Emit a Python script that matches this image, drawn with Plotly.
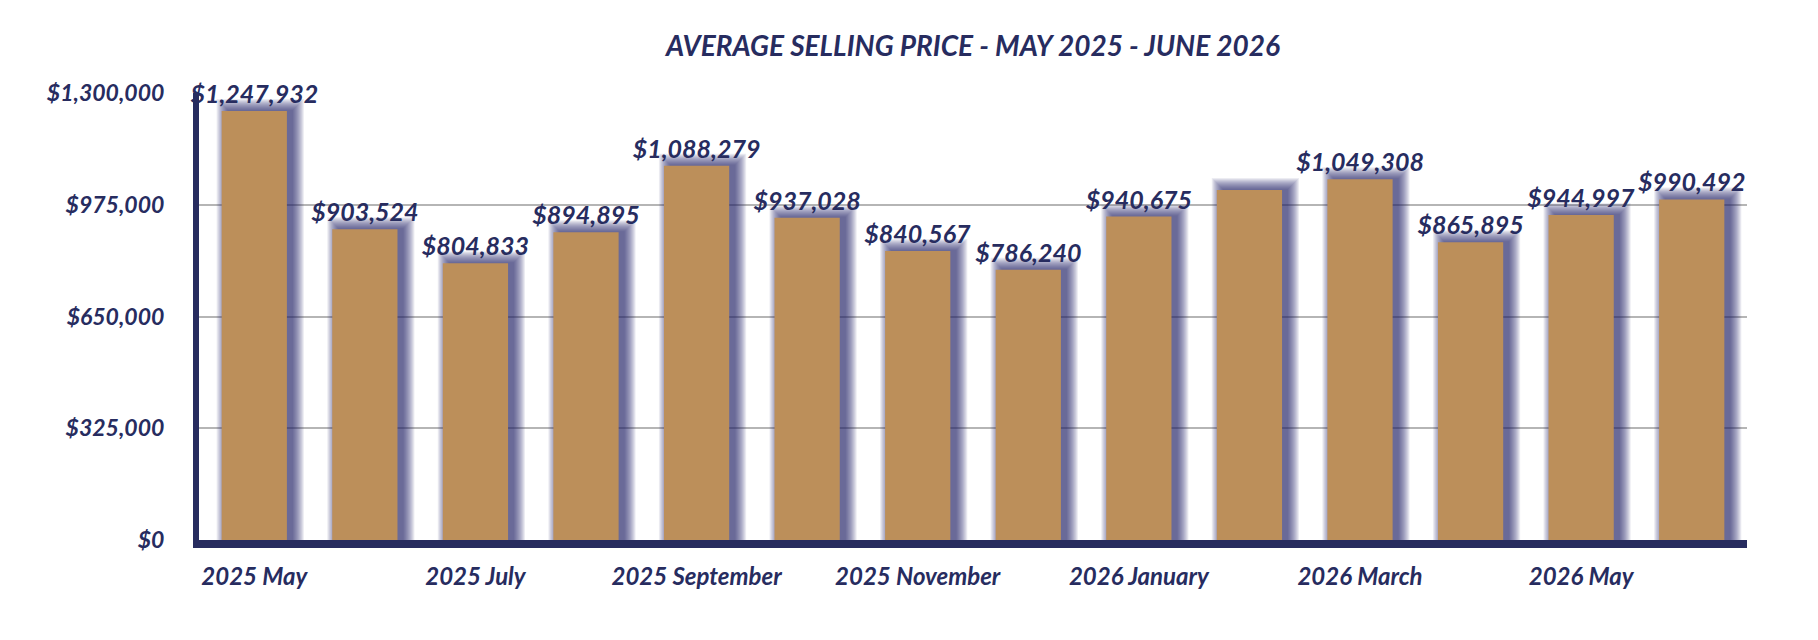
import plotly.graph_objects as go

months = ["2025 May", "2025 June", "2025 July", "2025 August", "2025 September",
          "2025 October", "2025 November", "2025 December", "2026 January",
          "2026 February", "2026 March", "2026 April", "2026 May", "2026 June"]
avg_price = [1247932, 903524, 804833, 894895, 1088279, 937028, 840567, 786240,
             940675, 1018000, 1049308, 865895, 944997, 990492]
hidden_labels = ["2026 February"]
tick_months = months[::2]
y_ticks = [0, 325000, 650000, 975000, 1300000]

NAVY = "#272c5f"
GOLD = "#bc8f5a"
FONT = "Lato"

labels = ["" if m in hidden_labels else f"${v:,.0f}" for m, v in zip(months, avg_price)]

fig = go.Figure()

# soft shadow layers (blur imitation)
BAR_W = 0.59
PX_X = 1 / 110.8          # one pixel in category units
PX_Y = 1300000 / 447      # one pixel in value units
SHIFT_X, SHIFT_Y = 6, 1
for e in range(11, -1, -1):
    fig.add_trace(go.Bar(
        x=months,
        y=[v + (SHIFT_Y + e) * PX_Y for v in avg_price],
        width=BAR_W + 2 * e * PX_X,
        offset=-BAR_W / 2 + (SHIFT_X - e) * PX_X,
        marker=dict(color="rgba(35,40,100,0.085)", line=dict(width=0)),
        hoverinfo="skip", showlegend=False,
    ))

fig.add_trace(go.Bar(
    x=months, y=avg_price, width=BAR_W,
    marker=dict(color=GOLD, line=dict(width=0)),
    text=labels, textposition="outside", cliponaxis=False, constraintext="none",
    textfont=dict(family=FONT, size=25, color=NAVY, weight="bold", style="italic"),
    showlegend=False, hoverinfo="skip",
))

fig.update_layout(
    width=1818, height=640,
    barmode="overlay",
    plot_bgcolor="white", paper_bgcolor="white",
    margin=dict(l=199, r=71, t=93, b=100),
    title=dict(text="AVERAGE SELLING PRICE - MAY 2025 - JUNE 2026",
               x=0.5, xref="paper", xanchor="center", y=1 - 46 / 640, yanchor="middle",
               font=dict(family=FONT, size=28, color=NAVY, weight="bold", style="italic")),
)
fig.update_xaxes(
    type="category", categoryorder="array", categoryarray=months,
    tickmode="array", tickvals=tick_months, ticktext=tick_months,
    showline=True, linecolor=NAVY, linewidth=8, ticks="",
    ticklabelstandoff=8, showgrid=False,
    tickfont=dict(family=FONT, size=24, color=NAVY, weight="bold", style="italic"),
)
fig.update_yaxes(
    range=[0, 1300000], tickmode="array", tickvals=y_ticks,
    ticktext=[f"${v:,.0f}" for v in y_ticks],
    showline=True, linecolor=NAVY, linewidth=6, ticks="",
    ticklabelstandoff=24, showgrid=True, gridcolor="#b5b5b5", gridwidth=1.5,
    zeroline=False,
    tickfont=dict(family=FONT, size=23, color=NAVY, weight="bold", style="italic"),
)

fig.write_html("out.html")
